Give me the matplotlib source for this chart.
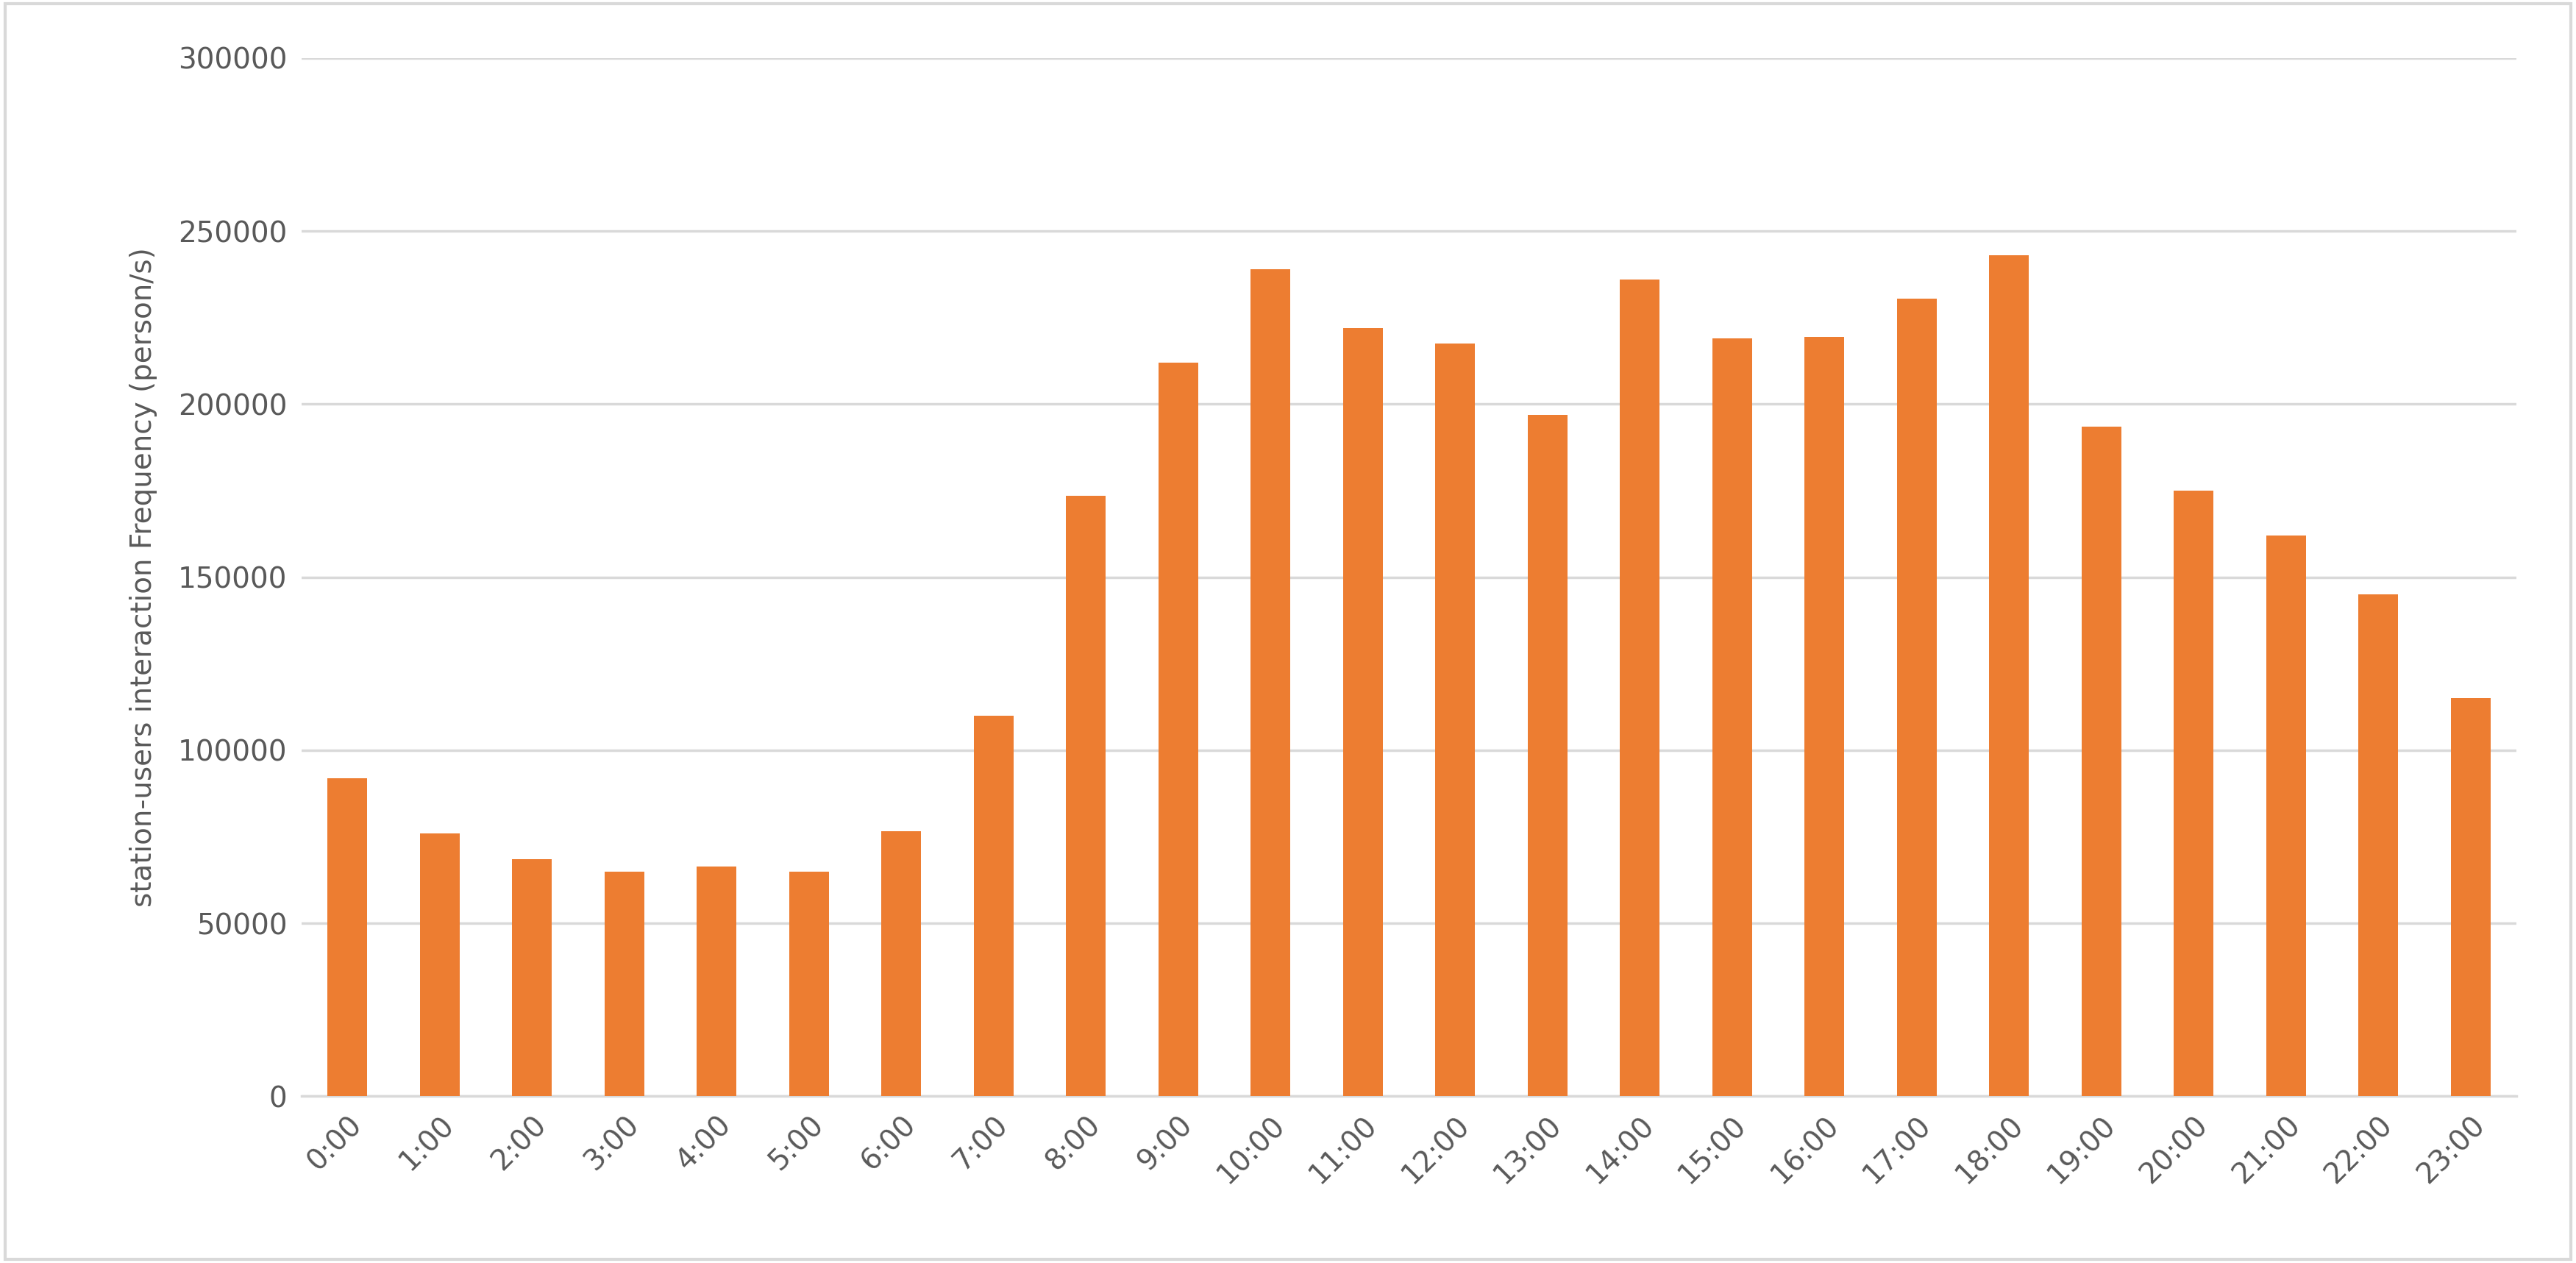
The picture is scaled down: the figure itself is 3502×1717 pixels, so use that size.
import matplotlib.pyplot as plt
import numpy as np

hours = ["%d:00" % h for h in range(24)]
freq = [92000, 76000, 68500, 65000, 66500, 65000, 76500, 110000, 173500,
        212000, 239000, 222000, 217500, 197000, 236000, 219000, 219500,
        230500, 243000, 193500, 175000, 162000, 145000, 115000]

fig = plt.figure(figsize=(35.02, 17.17), dpi=100)
ax = fig.add_axes([0.117, 0.132, 0.86, 0.822])
x = np.arange(len(hours))
ax.bar(x, freq, width=0.43, color="#ED7D31", zorder=3)

ax.set_xlim(-0.5, len(hours) - 0.5)
ax.set_ylim(0, 300000)
ax.set_yticks(range(0, 300001, 50000))
ax.set_xticks(x)
ax.set_xticklabels(hours, rotation=45, ha="right", rotation_mode="anchor")
ax.tick_params(axis="both", labelsize=28, colors="#595959", length=0, pad=14)
ax.grid(axis="y", color="#D9D9D9", linewidth=2.5, zorder=0)
for s in ["top", "right", "left"]:
    ax.spines[s].set_visible(False)
ax.spines["bottom"].set_color("#D9D9D9")
ax.spines["bottom"].set_linewidth(2.5)
ax.set_ylabel("station-users interaction Frequency (person/s)", fontsize=28,
              color="#595959", labelpad=20)

fig.patches.append(plt.Rectangle((0.002, 0.003), 0.996, 0.994, transform=fig.transFigure,
                                 fill=False, edgecolor="#D9D9D9", linewidth=3))
fig.savefig("out.png", dpi=100)
